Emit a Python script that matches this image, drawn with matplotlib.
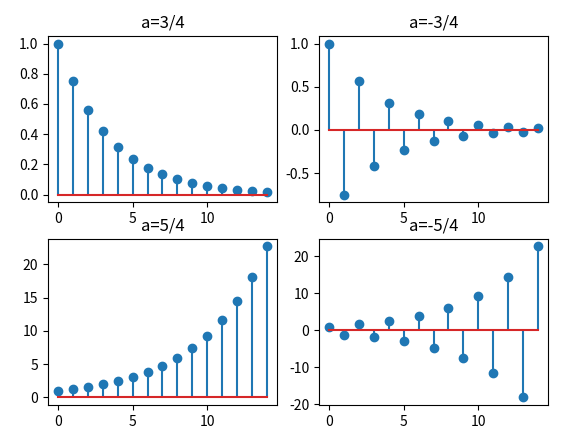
import numpy as np
import matplotlib
matplotlib.use('Agg')
import matplotlib.pyplot as plt

plt.rcParams['font.family'] = ['Noto Sans CJK SC', 'DejaVu Sans']
plt.rcParams['axes.unicode_minus'] = False

n = list(range(15))
titles = ['a=3/4', 'a=-3/4', 'a=5/4', 'a=-5/4']
y_34 = [1.0, 0.75, 0.5625, 0.4219, 0.3164, 0.2373, 0.178, 0.1335, 0.1001, 0.0751,
        0.0563, 0.0422, 0.0317, 0.0238, 0.0178]
y_m34 = [1.0, -0.75, 0.5625, -0.4219, 0.3164, -0.2373, 0.178, -0.1335, 0.1001, -0.0751,
         0.0563, -0.0422, 0.0317, -0.0238, 0.0178]
y_54 = [1.0, 1.25, 1.5625, 1.953, 2.441, 3.052, 3.815, 4.768, 5.96, 7.45,
        9.31, 11.64, 14.55, 18.19, 22.74]
y_m54 = [1.0, -1.25, 1.5625, -1.953, 2.441, -3.052, 3.815, -4.768, 5.96, -7.45,
         9.31, -11.64, 14.55, -18.19, 22.74]
yticks = [[0.0, 0.2, 0.4, 0.6, 0.8, 1.0], [-0.5, 0.0, 0.5, 1.0],
          [0, 5, 10, 15, 20], [-20, -10, 0, 10, 20]]
ytick_labels = [['0.0', '0.2', '0.4', '0.6', '0.8', '1.0'], ['-0.5', '0.0', '0.5', '1.0'],
                ['0', '5', '10', '15', '20'], ['-20', '-10', '0', '10', '20']]

fig, axes = plt.subplots(2, 2, figsize=(5.77, 4.44), dpi=100)
fig.subplots_adjust(left=0.083, right=0.95, top=0.919, bottom=0.088,
                    wspace=0.183, hspace=0.22)
for ax, t, y, yt, yl in zip(axes.flat, titles, [y_34, y_m34, y_54, y_m54],
                            yticks, ytick_labels):
    ax.stem(n, y, basefmt='C3-')
    ax.set_title(t)
    ax.set_yticks(yt, yl)
    ax.set_xticks([0, 5, 10])
fig.savefig('out.png')
